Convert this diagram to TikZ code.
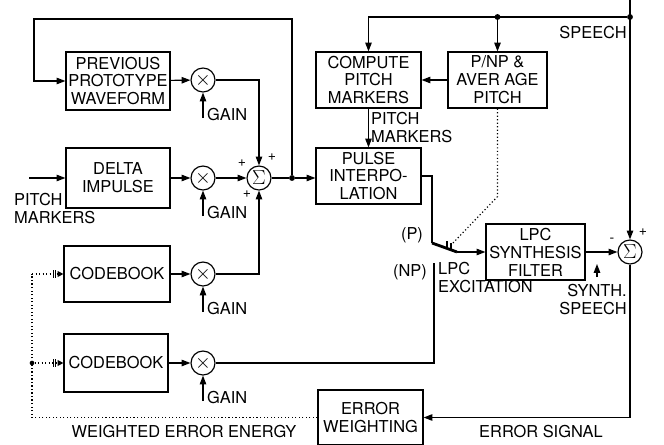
\documentclass[tikz,border=0pt]{standalone}
\usepackage{fontspec}
\setmainfont{TeX Gyre Heros}
\usetikzlibrary{arrows.meta}

\tikzset{
	block/.style={draw, line width=1pt, align=center, inner sep=0pt, font=\fontsize{14}{15.3}\selectfont},
	mult/.style={draw, circle, line width=1pt, minimum size=0.72cm, inner sep=0pt, font=\fontsize{17}{17}\selectfont},
	wire/.style={line width=1pt},
	arr/.style={line width=1pt, -{Triangle[length=7.5pt,width=5.5pt]}},
	cbarr/.style={line width=1pt, dotted, -{Bar[width=6pt,sep=1pt]Bar[width=6pt,sep=1pt]Triangle[length=5pt,width=5pt]}},
	lbl/.style={font=\fontsize{14}{15.3}\selectfont, inner sep=0pt, align=left},
	sgn/.style={font=\fontsize{12}{12}\selectfont, inner sep=0pt},
	dot/.style={circle, fill, inner sep=0pt, minimum size=5pt}
}

\begin{document}
\begin{tikzpicture}[x=0.03cm, y=-0.03cm]
	\useasboundingbox (0,0) rectangle (664,445);

	% blocks
	\node[block, minimum width=3.12cm, minimum height=1.74cm] (ppw) at (118,81) {PREVIOUS\\PROTOTYPE\\WAVEFORM};
	\node[block, minimum width=3.12cm, minimum height=1.8cm] (delta) at (118,178) {DELTA\\IMPULSE};
	\node[block, minimum width=3.18cm, minimum height=1.68cm] (cb1) at (117,274) {CODEBOOK};
	\node[block, minimum width=3.12cm, minimum height=1.74cm] (cb2) at (116,363) {CODEBOOK};
	\node[block, minimum width=3.15cm, minimum height=1.68cm] (comp) at (368.5,80) {COMPUTE\\PITCH\\MARKERS};
	\node[block, minimum width=2.97cm, minimum height=1.68cm] (pnp) at (497.5,80) {P/NP \&\\AVER AGE\\PITCH};
	\node[block, minimum width=3.15cm, minimum height=1.68cm] (pulse) at (368.5,176) {PULSE\\INTERPO-\\LATION};
	\node[block, minimum width=2.97cm, minimum height=1.68cm] (lpc) at (535.5,252) {LPC\\SYNTHESIS\\FILTER};
	\node[block, minimum width=3.15cm, minimum height=1.65cm] (errw) at (370.5,417.5) {ERROR\\WEIGHTING};

	% multipliers and adders
	\node[mult] (m1) at (203,80) {$\times$};
	\node[mult] (m2) at (203,178) {$\times$};
	\node[mult] (m3) at (203,274) {$\times$};
	\node[mult] (m4) at (203,363) {$\times$};
	\node[mult] (s1) at (259,178) {$\Sigma$};
	\node[mult] (s2) at (630,252) {$\Sigma$};

	\foreach \n/\y in {1/80,2/178,3/274,4/363}{
		\coordinate (g\n) at (203,\y+38);
		\node[lbl, anchor=west] (gl\n) at (207,\y+35) {GAIN};
		\draw[arr] (g\n) -- (m\n.south);
	}

	\node[sgn] (p1) at (242,163) {+};
	\node[sgn] (p2) at (272,157) {+};
	\node[sgn] (p3) at (247,194) {+};
	\node[sgn] (mi) at (612,240) {-};
	\node[sgn] (p4) at (643,232) {+};

	% points
	\coordinate (tl) at (34,19);
	\coordinate (pin) at (29,178);
	\coordinate (spin) at (630,0);
	\node[dot] (spd) at (630,17) {};
	\node[dot] (pd) at (497.5,17) {};
	\node[dot] (jt) at (292,178) {};
	\coordinate (sp) at (432,243);
	\coordinate (se) at (457,252);
	\coordinate (np) at (434,263);
	\coordinate (ck) at (452,244);
	\coordinate (dl) at (32,274);
	\node[dot, minimum size=4pt] (dd) at (32,363) {};
	\coordinate (sst) at (597,277);
	\coordinate (ssh) at (597,264);

	% excitation paths
	\draw[arr] (ppw) -- (m1);
	\draw[arr] (delta) -- (m2);
	\draw[arr] (cb1) -- (m3);
	\draw[arr] (cb2) -- (m4);
	\draw[arr] (pin) -- (delta.west);
	\draw[arr] (m1.east) -| (s1.north);
	\draw[arr] (m2) -- (s1);
	\draw[arr] (m3.east) -| (s1.south);
	\draw[wire] (s1.east) -- (jt);
	\draw[arr] (jt) -- (jt -| pulse.west);
	\draw[arr] (jt) |- (tl) |- (ppw.west);

	% speech analysis
	\draw[arr] (spin) -- (s2.north);
	\draw[arr] (spd) -| (comp.north);
	\draw[arr] (pd) -- (pnp.north);
	\draw[arr] (pnp) -- (comp);
	\draw[arr] (comp) -- (pulse);

	% switch and synthesis
	\draw[wire] (pulse.east) -| (sp);
	\draw[line width=2.4pt] (sp) -- (se);
	\draw[wire] (447,241) -- (447,247);
	\draw[wire] (451,243) -- (451,249);
	\draw[wire] (m4.east) -| (np);
	\draw[wire, dotted] (pnp.south) -- ++(0,88) -- (ck);
	\draw[arr] (se) -- (lpc.west);
	\draw[arr] (lpc) -- (s2);
	\draw[arr] (sst) -- (ssh);
	\draw[arr] (s2.south) |- (errw.east);

	% error feedback
	\draw[wire, dotted] (errw.west) -| (dl);
	\draw[cbarr] (dl) -- (cb1.west);
	\draw[cbarr] (dd) -- (cb2.west);

	% labels
	\node[lbl, anchor=north west] (pml) at (14,193) {PITCH\\MARKERS};
	\node[lbl, anchor=north west] (pm2) at (371,112) {PITCH\\MARKERS};
	\node[lbl, anchor=east] (spl) at (627,33) {SPEECH};
	\node[lbl] (pl) at (412,235) {(P)};
	\node[lbl] (npl) at (410,272) {(NP)};
	\node[lbl, anchor=north west] (exl) at (438,262) {LPC\\EXCITATION};
	\node[lbl, align=right, anchor=north east] (ssl) at (627,284) {SYNTH.\\SPEECH};
	\node[lbl] (esl) at (541,432) {ERROR SIGNAL};
	\node[lbl] (wel) at (184,432) {WEIGHTED ERROR ENERGY};
\end{tikzpicture}
\end{document}
